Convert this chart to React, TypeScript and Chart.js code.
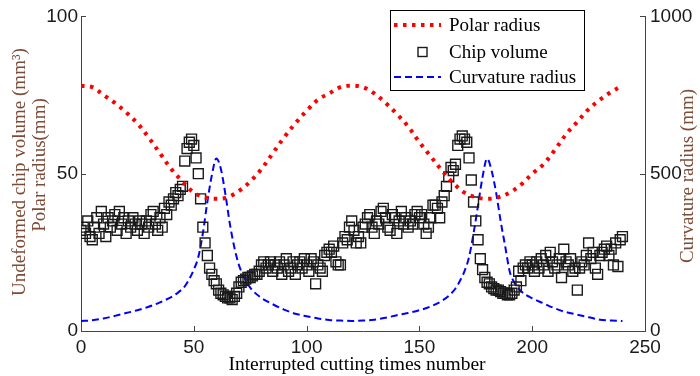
import React, { useEffect, useRef } from 'react';
import { Chart, registerables } from 'chart.js';

Chart.register(...registerables);

// ---- data ----
const xTickValues = [0, 50, 100, 150, 200, 250];
const leftTickValues = [0, 50, 100];
const rightTickValues = [0, 500, 1000];

const polarX = [0, 5, 10, 15, 20, 25, 30, 35, 40, 45, 50, 55, 60, 65, 70, 75, 80, 85, 90, 95, 100, 105, 110, 115, 120,
  125, 130, 135, 140, 145, 150, 155, 160, 165, 170, 175, 180, 185, 190, 195, 200, 205, 210, 215, 220, 225, 230, 235, 240];
const polarY = [78, 77.5, 75, 72.5, 69.5, 66, 61.5, 56.5, 51.5, 47.5, 44, 42.5, 42, 42.5, 44.5, 47.5, 51.5, 56.5, 61.5, 66, 70, 73.5, 75.5, 77.5, 78,
  77.5, 75.5, 72.5, 69, 65, 60, 55.5, 51, 47, 44, 42.5, 42, 42.5, 44, 46.5, 50, 53, 57.5, 62.5, 66.5, 70.5, 73.5, 76, 78];

const curvX = [0, 5, 10, 15, 20, 25, 30, 35, 40, 43, 46, 48, 50, 52, 54, 56, 58, 60, 62, 64, 66, 68, 70, 72, 75,
  80, 85, 90, 95, 100, 105, 110, 115, 120, 125, 130, 135, 140, 145, 150, 155, 160, 163, 166, 168, 170, 172, 174, 176, 178, 180,
  182, 184, 186, 188, 190, 192, 195, 200, 205, 210, 215, 220, 225, 230, 235, 240];
const curvY = [32, 34, 40, 48, 57, 66, 77, 91, 108, 122, 142, 165, 195, 235, 310, 410, 495, 548, 515, 435, 340, 265, 210, 175, 138,
  105, 85, 68, 55, 47, 40, 35, 33, 32, 33, 36, 42, 50, 57, 66, 78, 96, 112, 135, 160, 190, 235, 310, 400, 490, 548,
  510, 440, 350, 270, 190, 155, 127, 104, 88, 72, 60, 52, 44, 36, 33, 32];

// chip volume, one value per interrupted cutting number 0..240
const chipY = [
  32, 33, 31, 35, 30, 29, 33, 36, 31, 38,
  34, 30, 36, 33, 35, 37, 32, 38, 34, 36,
  31, 35, 33, 36, 34, 32, 35, 34, 31, 35,
  33, 37, 38, 34, 32, 36, 33, 39, 37, 41,
  40, 42, 44, 43, 45, 46, 54, 58, 60, 61,
  59, 55, 50, 42, 33, 28, 24, 20, 18, 16,
  15, 13, 12, 11.5, 11, 10.5, 10.5, 10, 11, 12,
  14, 15.5, 16, 16.5, 17, 17, 17.5, 18, 18, 19,
  21, 22, 20, 21, 22, 19, 21, 20, 22, 18,
  21, 23, 19, 20, 22, 18, 21, 22, 20, 23,
  21, 19, 23, 22, 15, 21, 20, 19, 24, 25,
  26, 25, 27, 22, 21, 21, 28, 30, 29, 33,
  35, 32, 28, 30, 28, 33, 34, 36, 37, 33,
  31, 35, 34, 38, 39, 36, 33, 32, 37, 36,
  31, 35, 38, 34, 36, 33, 35, 34, 37, 38,
  36, 37, 34, 31, 33, 36, 40, 40, 39, 36,
  41, 43, 46, 49, 52, 51, 53, 59, 61, 62,
  61, 60, 55, 48, 41, 35, 29, 23, 19.5, 17,
  15.5, 15, 14, 13.5, 13, 13, 12.5, 12, 12, 11.5,
  11.5, 12, 13, 14, 19, 16, 20, 21, 20, 22,
  21, 19, 22, 20, 23, 21, 24, 19, 25, 22,
  20, 21, 23, 17, 26, 22, 21, 23, 19, 20,
  13, 20, 22, 21, 24, 28, 23, 25, 20, 18,
  24, 25, 26, 27, 24, 26, 21, 28, 20.5, 29, 30,
];

const seriesLabels = ['Polar radius', 'Chip volume', 'Curvature radius'];
const xTitle = 'Interrupted cutting times number';
const leftTitle1 = 'Undeformed chip volume (mm\u00B3)';
const leftTitle2 = 'Polar radius(mm)';
const rightTitle = 'Curvature radius (mm)';

const SERIF = '"Liberation Serif", "Times New Roman", serif';
const SANS = '"Liberation Sans", Arial, sans-serif';
const TITLE_COLOR = '#7d4b36';
const AXIS_COLOR = '#444444';

const decorPlugin = {
  id: 'decor',
  afterDraw(chart: any) {
    const ctx = chart.ctx as CanvasRenderingContext2D;
    const { left, right, top, bottom } = chart.chartArea;
    const xs = chart.scales.x;
    const yl = chart.scales.y;
    const yr = chart.scales.y2;
    ctx.save();
    // inward tick marks
    ctx.strokeStyle = AXIS_COLOR;
    ctx.lineWidth = 1;
    ctx.beginPath();
    xs.ticks.forEach((t: any) => {
      const p = Math.round(xs.getPixelForValue(t.value)) + 0.5;
      ctx.moveTo(p, bottom);
      ctx.lineTo(p, bottom - 5);
    });
    yl.ticks.forEach((t: any) => {
      const p = Math.round(yl.getPixelForValue(t.value)) + 0.5;
      ctx.moveTo(left, p);
      ctx.lineTo(left + 5, p);
    });
    yr.ticks.forEach((t: any) => {
      const p = Math.round(yr.getPixelForValue(t.value)) + 0.5;
      ctx.moveTo(right, p);
      ctx.lineTo(right - 5, p);
    });
    ctx.stroke();

    // axis titles
    ctx.fillStyle = '#000';
    ctx.font = `19.5px ${SERIF}`;
    ctx.textAlign = 'center';
    ctx.textBaseline = 'middle';
    ctx.fillText(xTitle, 357, 365);

    ctx.fillStyle = TITLE_COLOR;
    ctx.font = `19px ${SERIF}`;
    ctx.save();
    ctx.translate(20, 172);
    ctx.rotate(-Math.PI / 2);
    ctx.fillText(leftTitle1, 0, 0);
    ctx.restore();
    ctx.save();
    ctx.translate(40, 165);
    ctx.rotate(-Math.PI / 2);
    ctx.fillText(leftTitle2, 0, 0);
    ctx.restore();
    ctx.save();
    ctx.translate(688, 176);
    ctx.rotate(-Math.PI / 2);
    ctx.fillText(rightTitle, 0, 0);
    ctx.restore();

    // legend
    const bx = 390.5, by = 10.5, bw = 194, bh = 80;
    ctx.fillStyle = '#fff';
    ctx.fillRect(bx, by, bw, bh);
    ctx.strokeStyle = '#000';
    ctx.lineWidth = 1;
    ctx.strokeRect(bx, by, bw, bh);
    const ds = chart.data.datasets;
    const rows = [25, 52, 77];
    const sx0 = 394, sx1 = 441;
    // polar sample
    ctx.save();
    ctx.strokeStyle = ds[0].borderColor;
    ctx.lineWidth = ds[0].borderWidth;
    ctx.setLineDash(ds[0].borderDash);
    ctx.beginPath();
    ctx.moveTo(sx0, rows[0]);
    ctx.lineTo(sx1, rows[0]);
    ctx.stroke();
    ctx.restore();
    // chip sample
    ctx.save();
    ctx.strokeStyle = ds[1].borderColor;
    ctx.lineWidth = ds[1].borderWidth;
    ctx.strokeRect(418, rows[1] - 4.5, 9, 9);
    ctx.restore();
    // curvature sample
    ctx.save();
    ctx.strokeStyle = ds[2].borderColor;
    ctx.lineWidth = ds[2].borderWidth;
    ctx.setLineDash(ds[2].borderDash);
    ctx.beginPath();
    ctx.moveTo(sx0, rows[2]);
    ctx.lineTo(sx1, rows[2]);
    ctx.stroke();
    ctx.restore();

    ctx.fillStyle = '#000';
    ctx.font = `19px ${SERIF}`;
    ctx.textAlign = 'left';
    ctx.textBaseline = 'middle';
    seriesLabels.forEach((l, i) => ctx.fillText(l, 449, rows[i] + 1));
    ctx.restore();
  },
};

export default function App() {
  const ref = useRef<HTMLCanvasElement>(null);
  useEffect(() => {
    document.body.style.margin = '0';
    const canvas = ref.current!;
    const polarData = polarX.map((x, i) => ({ x, y: polarY[i] }));
    const curvData = curvX.map((x, i) => ({ x, y: curvY[i] }));
    const chipData = chipY.map((y, i) => ({ x: i, y }));
    const tickFont = { family: SANS, size: 19 };
    const plain = (v: any) => String(v);
    const chart = new Chart(canvas, {
      type: 'line',
      data: {
        datasets: [
          {
            type: 'line',
            label: seriesLabels[0],
            data: polarData,
            borderColor: '#ff0000',
            borderWidth: 4,
            borderDash: [3.5, 5.5],
            pointRadius: 0,
            tension: 0.35,
            fill: false,
            yAxisID: 'y',
          },
          {
            type: 'scatter',
            label: seriesLabels[1],
            data: chipData,
            showLine: false,
            pointStyle: 'rect',
            pointRadius: 7,
            borderColor: '#1a1a1a',
            backgroundColor: 'rgba(0,0,0,0)',
            borderWidth: 1.4,
            yAxisID: 'y',
          },
          {
            type: 'line',
            label: seriesLabels[2],
            data: curvData,
            borderColor: '#0000ff',
            borderWidth: 2,
            borderDash: [7, 4],
            pointRadius: 0,
            cubicInterpolationMode: 'monotone',
            fill: false,
            yAxisID: 'y2',
          },
        ],
      } as any,
      options: {
        animation: false,
        responsive: false,
        maintainAspectRatio: false,
        events: [],
        layout: { padding: { top: 9, left: 0, right: 0, bottom: 0 } },
        plugins: { legend: { display: false }, tooltip: { enabled: false } },
        scales: {
          x: {
            type: 'linear',
            min: 0,
            max: 250,
            afterBuildTicks: (s: any) => { s.ticks = xTickValues.map((v) => ({ value: v })); },
            ticks: { font: tickFont, color: '#1a1a1a', padding: 5, maxRotation: 0, autoSkip: false, callback: plain },
            grid: { display: false, drawTicks: false },
            border: { display: true, color: AXIS_COLOR, width: 1 },
            afterFit: (s: any) => { s.height = 45; },
          },
          y: {
            type: 'linear',
            position: 'left',
            min: 0,
            max: 100,
            afterBuildTicks: (s: any) => { s.ticks = leftTickValues.map((v) => ({ value: v })); },
            ticks: { font: tickFont, color: '#1a1a1a', padding: 3, callback: plain },
            grid: { display: false, drawTicks: false },
            border: { display: true, color: AXIS_COLOR, width: 1 },
            afterFit: (s: any) => { s.width = 81; },
          },
          y2: {
            type: 'linear',
            position: 'right',
            min: 0,
            max: 1000,
            afterBuildTicks: (s: any) => { s.ticks = rightTickValues.map((v) => ({ value: v })); },
            ticks: { font: tickFont, color: '#1a1a1a', padding: 5, callback: plain },
            grid: { display: false, drawTicks: false },
            border: { display: true, color: AXIS_COLOR, width: 1 },
            afterFit: (s: any) => { s.width = 55; },
          },
        },
      } as any,
      plugins: [decorPlugin],
    });
    return () => chart.destroy();
  }, []);
  return (
    <canvas ref={ref} width={700} height={376} style={{ display: 'block', width: 700, height: 376 }} />
  );
}
